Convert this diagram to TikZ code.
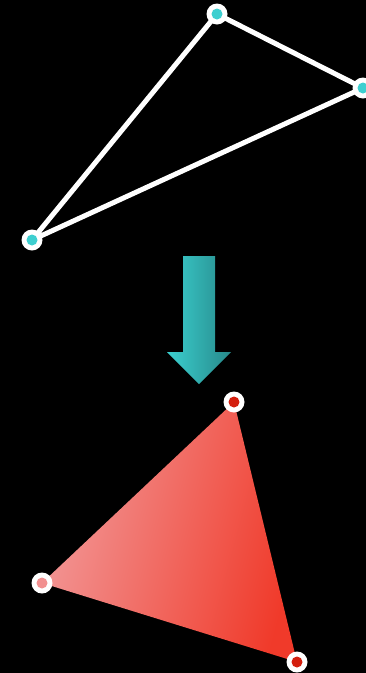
\documentclass[tikz,border=0pt]{standalone}
\begin{document}
\begin{tikzpicture}[x=1pt,y=-1pt,
  edge/.style={draw=white,line width=5pt,line join=round},
  ring/.style={circle,fill=white,minimum size=21pt,inner sep=0pt},
  core/.style={circle,minimum size=11pt,inner sep=0pt}]
\definecolor{cyanA}{HTML}{3ECFD0}
\definecolor{tealL}{HTML}{3BCFCF}
\definecolor{tealR}{HTML}{27898A}
\definecolor{pinkL}{HTML}{F29A9A}
\definecolor{redR}{HTML}{F03A2A}
\definecolor{redDot}{HTML}{D41F0E}
\definecolor{pinkDot}{HTML}{F29090}
\fill[black] (0,0) rectangle (366,673);
\useasboundingbox (0,0) rectangle (366,673);
% top triangle
\coordinate (a) at (217,14);
\coordinate (b) at (363,88);
\coordinate (c) at (32,240);
\draw[edge] (a) -- (b) -- (c) -- cycle;
\foreach \p in {a,b,c}{
  \node[ring] (r\p) at (\p) {};
  \node[core,fill=cyanA] (k\p) at (\p) {};
}
% arrow
\shade[left color=tealL,right color=tealR]
  (183,256) -- (215,256) -- (215,352) -- (231,352) -- (199,384) -- (167,352) -- (183,352) -- cycle;
% bottom triangle
\coordinate (d) at (234,402);
\coordinate (e) at (42,583);
\coordinate (f) at (297,662);
\shade[left color=pinkL,right color=redR,shading angle=75] (d) -- (f) -- (e) -- cycle;
\node[ring] (rd) at (d) {};
\node[core,fill=redDot] (kd) at (d) {};
\node[ring] (re) at (e) {};
\node[core,fill=pinkDot] (ke) at (e) {};
\node[ring] (rf) at (f) {};
\node[core,fill=redDot] (kf) at (f) {};
\end{tikzpicture}
\end{document}
